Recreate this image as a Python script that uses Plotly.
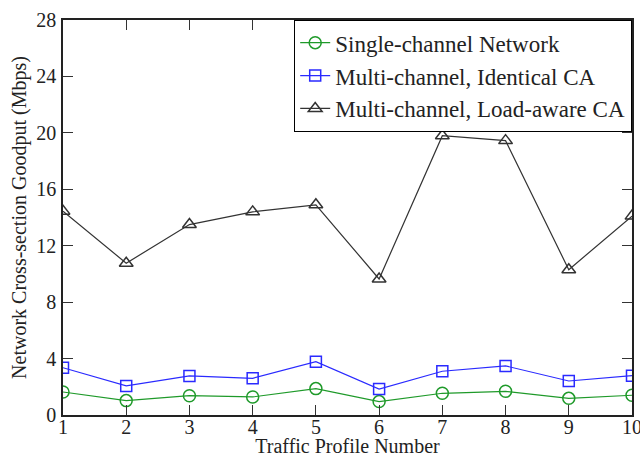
import plotly.graph_objects as go

profiles = [1, 2, 3, 4, 5, 6, 7, 8, 9, 10]
single_channel = [1.63, 1.02, 1.37, 1.28, 1.87, 0.95, 1.54, 1.68, 1.18, 1.40]
multi_identical = [3.35, 2.06, 2.77, 2.60, 3.78, 1.84, 3.10, 3.48, 2.41, 2.79]
multi_loadaware = [14.45, 10.76, 13.5, 14.4, 14.9, 9.64, 19.8, 19.45, 10.3, 14.1]
y_ticks = [0, 4, 8, 12, 16, 20, 24, 28]

font = "Liberation Serif"

fig = go.Figure()
fig.add_trace(go.Scatter(x=profiles, y=single_channel, mode="lines+markers",
                         name="Single-channel Network",
                         line=dict(color="#1f9a2a", width=1.2),
                         marker=dict(symbol="circle-open", size=12, color="#1f9a2a", line=dict(width=1.5))))
fig.add_trace(go.Scatter(x=profiles, y=multi_identical, mode="lines+markers",
                         name="Multi-channel, Identical CA",
                         line=dict(color="#2a2aff", width=1.2),
                         marker=dict(symbol="square-open", size=11, color="#2a2aff", line=dict(width=1.5))))
fig.add_trace(go.Scatter(x=profiles, y=multi_loadaware, mode="lines+markers",
                         name="Multi-channel, Load-aware CA",
                         line=dict(color="#333333", width=1.2),
                         marker=dict(symbol="triangle-up-open", size=12, color="#333333", line=dict(width=1.5))))

fig.update_layout(
    width=640, height=457,
    margin=dict(l=63, r=8, t=20, b=42, autoexpand=False),
    paper_bgcolor="white", plot_bgcolor="white",
    font=dict(family=font, size=20, color="#222"),
    showlegend=True,
    legend=dict(x=1, y=1, xanchor="right", yanchor="top",
                bordercolor="black", borderwidth=1.2, bgcolor="white",
                font=dict(family=font, size=23, color="#222"),
                tracegroupgap=0, itemwidth=30),
)
fig.update_xaxes(range=[1, 10], tickvals=profiles, ticks="inside", ticklen=10,
                 tickcolor="#333", showline=True, linecolor="#222", linewidth=1.5,
                 mirror="ticks", showgrid=False, zeroline=False, automargin=False,
                 ticklabelstandoff=-7, ticklabeloverflow="allow",
                 title=dict(text="Traffic Profile Number", standoff=7, font=dict(size=20)),
                 tickfont=dict(size=20))
fig.update_yaxes(range=[0, 28], tickvals=y_ticks, ticks="inside", ticklen=10,
                 tickcolor="#333", showline=True, linecolor="#222", linewidth=1.5,
                 mirror="ticks", showgrid=False, zeroline=False, automargin=False,
                 ticklabelstandoff=1, ticklabeloverflow="allow",
                 title=dict(text="Network Cross-section Goodput (Mbps)", standoff=4, font=dict(size=20)),
                 tickfont=dict(size=20))

fig.write_html("out.html", config={"displayModeBar": False},
               post_script="document.body.style.margin='0';document.body.style.overflow='hidden';")
